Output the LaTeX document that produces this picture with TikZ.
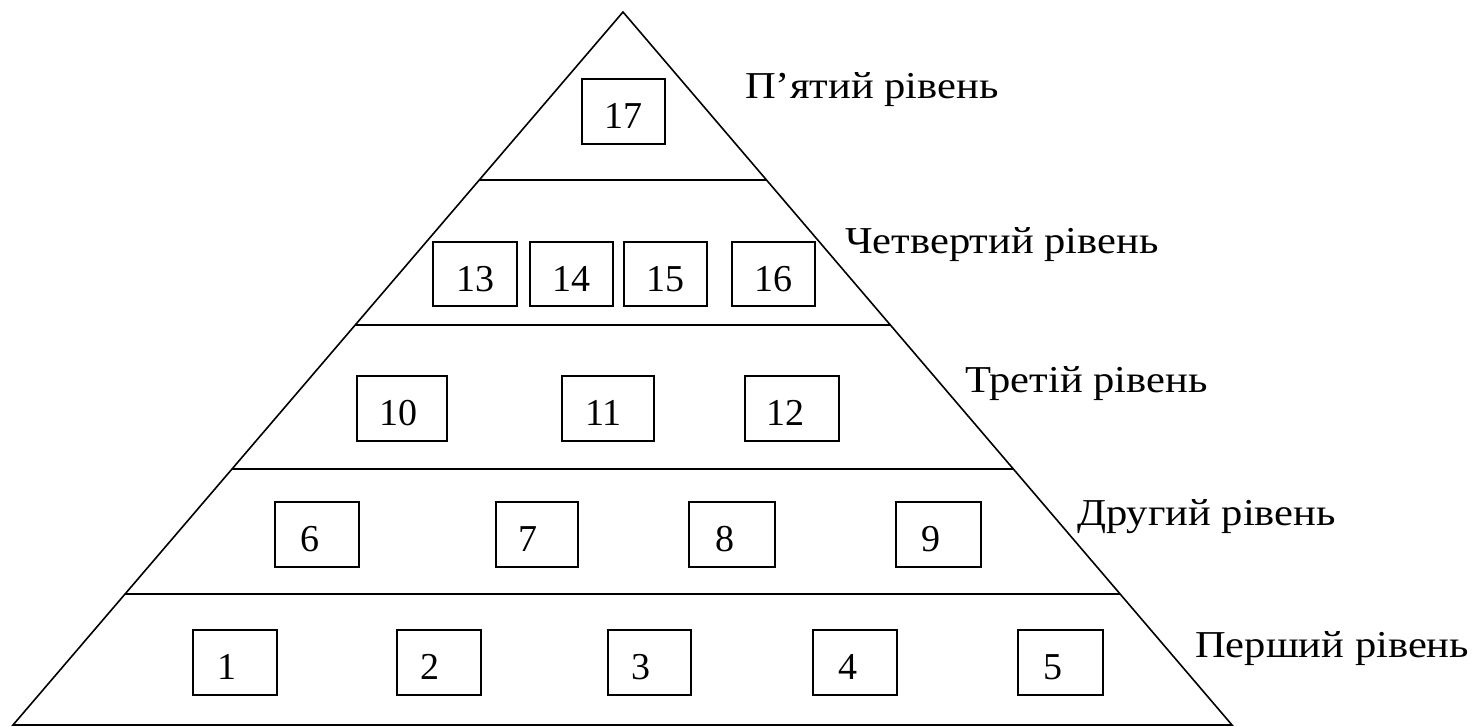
\documentclass[tikz,border=0pt]{standalone}
\usepackage{fontspec}
\setmainfont{Liberation Serif}
\newfontfamily\widefont[FakeStretch=1.12]{Liberation Serif}
\usetikzlibrary{calc}
% set a number left of the box centre by half of #1
\newcommand{\nudged}[2]{\makebox[0pt]{\kern-#1#2}}
\begin{document}
\begin{tikzpicture}[x=1pt,y=-1pt,
  edge/.style={line width=1.6pt,black},
  cell/.style={draw,line width=1.6pt,minimum height=65pt,inner sep=0pt,
    text height=34pt,text depth=0pt,
    font=\fontsize{38}{42}\selectfont},
  lvl/.style={anchor=base west,inner sep=0pt,
    font=\widefont\fontsize{38}{42}\selectfont}]
\useasboundingbox (0,0) rectangle (1475,727);
% pyramid outline
\coordinate (apex) at (623,12);
\coordinate (bl) at (13,725);
\coordinate (br) at (1232,725);
\draw[edge,line join=miter] (apex) -- (bl) -- (br) -- cycle;
% level separators
\foreach \t/\n in {0.2356/a,0.4390/b,0.6410/c,0.8163/d}{
  \coordinate (L\n) at ($(apex)!\t!(bl)$);
  \coordinate (R\n) at ($(apex)!\t!(br)$);
  \draw[edge] (L\n) -- (R\n);
}
% fifth level
\node[cell,minimum width=83pt] (n17) at (623.5,111.5) {17};
% fourth level
\node[cell,minimum width=84pt,minimum height=64pt] (n13) at (475,274) {13};
\node[cell,minimum width=83pt,minimum height=64pt] (n14) at (571.5,274) {14};
\node[cell,minimum width=83pt,minimum height=64pt] (n15) at (665.5,274) {15};
\node[cell,minimum width=83pt,minimum height=64pt] (n16) at (773.5,274) {16};
% third level
\node[cell,minimum width=90pt] (n10) at (402,408.5) {\nudged{8pt}{10}};
\node[cell,minimum width=92pt] (n11) at (608,408.5) {\nudged{9pt}{11}};
\node[cell,minimum width=94pt] (n12) at (792,408.5) {\nudged{13pt}{12}};
% second level
\node[cell,minimum width=84pt] (n6) at (317,534.5) {\nudged{14pt}{6}};
\node[cell,minimum width=82pt] (n7) at (537,534.5) {\nudged{18pt}{7}};
\node[cell,minimum width=86pt] (n8) at (732,534.5) {\nudged{14pt}{8}};
\node[cell,minimum width=85pt] (n9) at (938.5,534.5) {\nudged{16pt}{9}};
% first level
\node[cell,minimum width=84pt] (n1) at (235,662.5) {\nudged{16pt}{1}};
\node[cell,minimum width=84pt] (n2) at (439,662.5) {\nudged{18pt}{2}};
\node[cell,minimum width=83pt] (n3) at (649.5,662.5) {\nudged{18pt}{3}};
\node[cell,minimum width=84pt] (n4) at (855,662.5) {\nudged{14pt}{4}};
\node[cell,minimum width=85pt] (n5) at (1060.5,662.5) {\nudged{16pt}{5}};
% level captions
\node[lvl] (t5) at (745,99) {П’ятий рівень};
\node[lvl] (t4) at (845,254) {Четвертий рівень};
\node[lvl] (t3) at (965,392) {Третій рівень};
\node[lvl] (t2) at (1077,525) {Другий рівень};
\node[lvl] (t1) at (1195,657) {Перший рівень};
\end{tikzpicture}
\end{document}
